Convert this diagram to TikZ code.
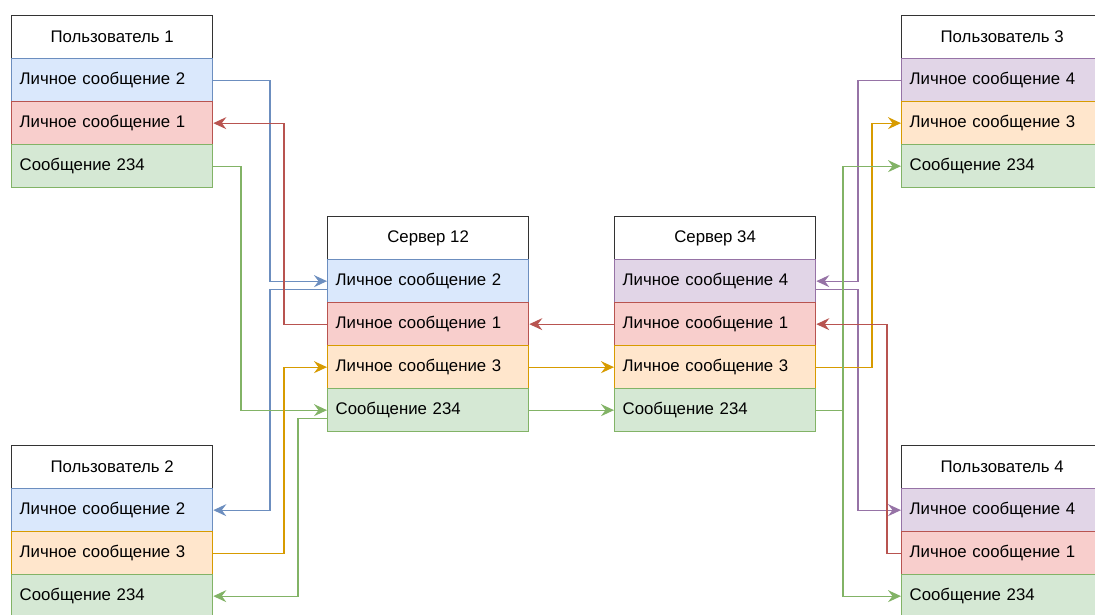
\documentclass[tikz,border=0pt]{standalone}
\usepackage{fontspec}
\setmainfont{Liberation Sans}
\usetikzlibrary{arrows.meta}

\definecolor{bluefill}{HTML}{DAE8FC}
\definecolor{blueline}{HTML}{6C8EBF}
\definecolor{redfill}{HTML}{F8CECC}
\definecolor{redline}{HTML}{B85450}
\definecolor{greenfill}{HTML}{D5E8D4}
\definecolor{greenline}{HTML}{82B366}
\definecolor{orangefill}{HTML}{FFE6CC}
\definecolor{orangeline}{HTML}{D79B00}
\definecolor{purplefill}{HTML}{E1D5E7}
\definecolor{purpleline}{HTML}{9673A6}

\tikzset{
  head/.style={draw=black!80, fill=white, line width=1.3pt, anchor=north west,
    minimum width=201pt, minimum height=43pt, inner sep=0pt},
  row/.style={draw=#1line, fill=#1fill, line width=1.3pt, anchor=north west,
    text width=185pt, align=left, inner xsep=8pt, inner ysep=0pt, minimum height=43pt},
  msg/.style={draw=#1line, line width=1.3pt, arrows={-Stealth[length=13pt, width=12pt, inset=4.5pt]}}
}

\begin{document}
\begin{tikzpicture}[x=1pt, y=-1pt, font=\fontsize{16.8}{20}\selectfont]
  \useasboundingbox (0, 0) rectangle (1095, 614);
  \clip (0, 0) rectangle (1095, 614);
  % Users on the left
  \node [head] (u1) at (11, 15) {Пользователь 1};
  \node [row=blue] (u1lm2) at (11, 58) {Личное сообщение 2};
  \node [row=red] (u1lm1) at (11, 101) {Личное сообщение 1};
  \node [row=green] (u1all) at (11, 144) {Сообщение 234};
  \node [head] (u2) at (11, 445) {Пользователь 2};
  \node [row=blue] (u2lm2) at (11, 488) {Личное сообщение 2};
  \node [row=orange] (u2lm3) at (11, 531) {Личное сообщение 3};
  \node [row=green] (u2all) at (11, 574) {Сообщение 234};
  % Servers
  \node [head] (s12) at (327, 216) {Сервер 12};
  \node [row=blue] (s12lm2) at (327, 259) {Личное сообщение 2};
  \node [row=red] (s12lm1) at (327, 302) {Личное сообщение 1};
  \node [row=orange] (s12lm3) at (327, 345) {Личное сообщение 3};
  \node [row=green] (s12all) at (327, 388) {Сообщение 234};
  \node [head] (s34) at (614, 216) {Сервер 34};
  \node [row=purple] (s34lm4) at (614, 259) {Личное сообщение 4};
  \node [row=red] (s34lm1) at (614, 302) {Личное сообщение 1};
  \node [row=orange] (s34lm3) at (614, 345) {Личное сообщение 3};
  \node [row=green] (s34all) at (614, 388) {Сообщение 234};
  % Users on the right
  \node [head] (u3) at (901, 15) {Пользователь 3};
  \node [row=purple] (u3lm4) at (901, 58) {Личное сообщение 4};
  \node [row=orange] (u3lm3) at (901, 101) {Личное сообщение 3};
  \node [row=green] (u3all) at (901, 144) {Сообщение 234};
  \node [head] (u4) at (901, 445) {Пользователь 4};
  \node [row=purple] (u4lm4) at (901, 488) {Личное сообщение 4};
  \node [row=red] (u4lm1) at (901, 531) {Личное сообщение 1};
  \node [row=green] (u4all) at (901, 574) {Сообщение 234};
  % x positions of the vertical runs
  \coordinate (xgreenA) at (241, 0);
  \coordinate (xblue) at (270, 0);
  \coordinate (xred) at (284, 0);
  \coordinate (xgreenB) at (298, 0);
  \coordinate (xgreenC) at (843, 0);
  \coordinate (xpurple) at (858, 0);
  \coordinate (xorange) at (872, 0);
  \coordinate (xredB) at (887, 0);
  % Left side
  \draw [msg=blue] (u1lm2.east) -| (xblue |- s12lm2) -- (s12lm2.west);
  \draw [msg=blue] ([yshift=-8pt]s12lm2.west) -| (xblue |- u2lm2) -- (u2lm2.east);
  \draw [msg=red] (s12lm1.west) -| (xred |- u1lm1) -- (u1lm1.east);
  \draw [msg=green] (u1all.east) -| (xgreenA |- s12all) -- (s12all.west);
  \draw [msg=orange] (u2lm3.east) -| (xred |- s12lm3) -- (s12lm3.west);
  \draw [msg=green] ([yshift=-8pt]s12all.west) -| (xgreenB |- u2all) -- (u2all.east);
  % Between the servers
  \draw [msg=red] (s34lm1.west) -- (s12lm1.east);
  \draw [msg=orange] (s12lm3.east) -- (s34lm3.west);
  \draw [msg=green] (s12all.east) -- (s34all.west);
  % Right side
  \draw [msg=purple] (u3lm4.west) -| (xpurple |- s34lm4) -- (s34lm4.east);
  \draw [msg=purple] ([yshift=-8pt]s34lm4.east) -| (xpurple |- u4lm4) -- (u4lm4.west);
  \draw [msg=orange] (s34lm3.east) -| (xorange |- u3lm3) -- (u3lm3.west);
  \draw [msg=green] (s34all.east) -| (xgreenC |- u3all) -- (u3all.west);
  \draw [msg=green] (s34all.east) -| (xgreenC |- u4all) -- (u4all.west);
  \draw [msg=red] (u4lm1.west) -| (xredB |- s34lm1) -- (s34lm1.east);
\end{tikzpicture}
\end{document}
